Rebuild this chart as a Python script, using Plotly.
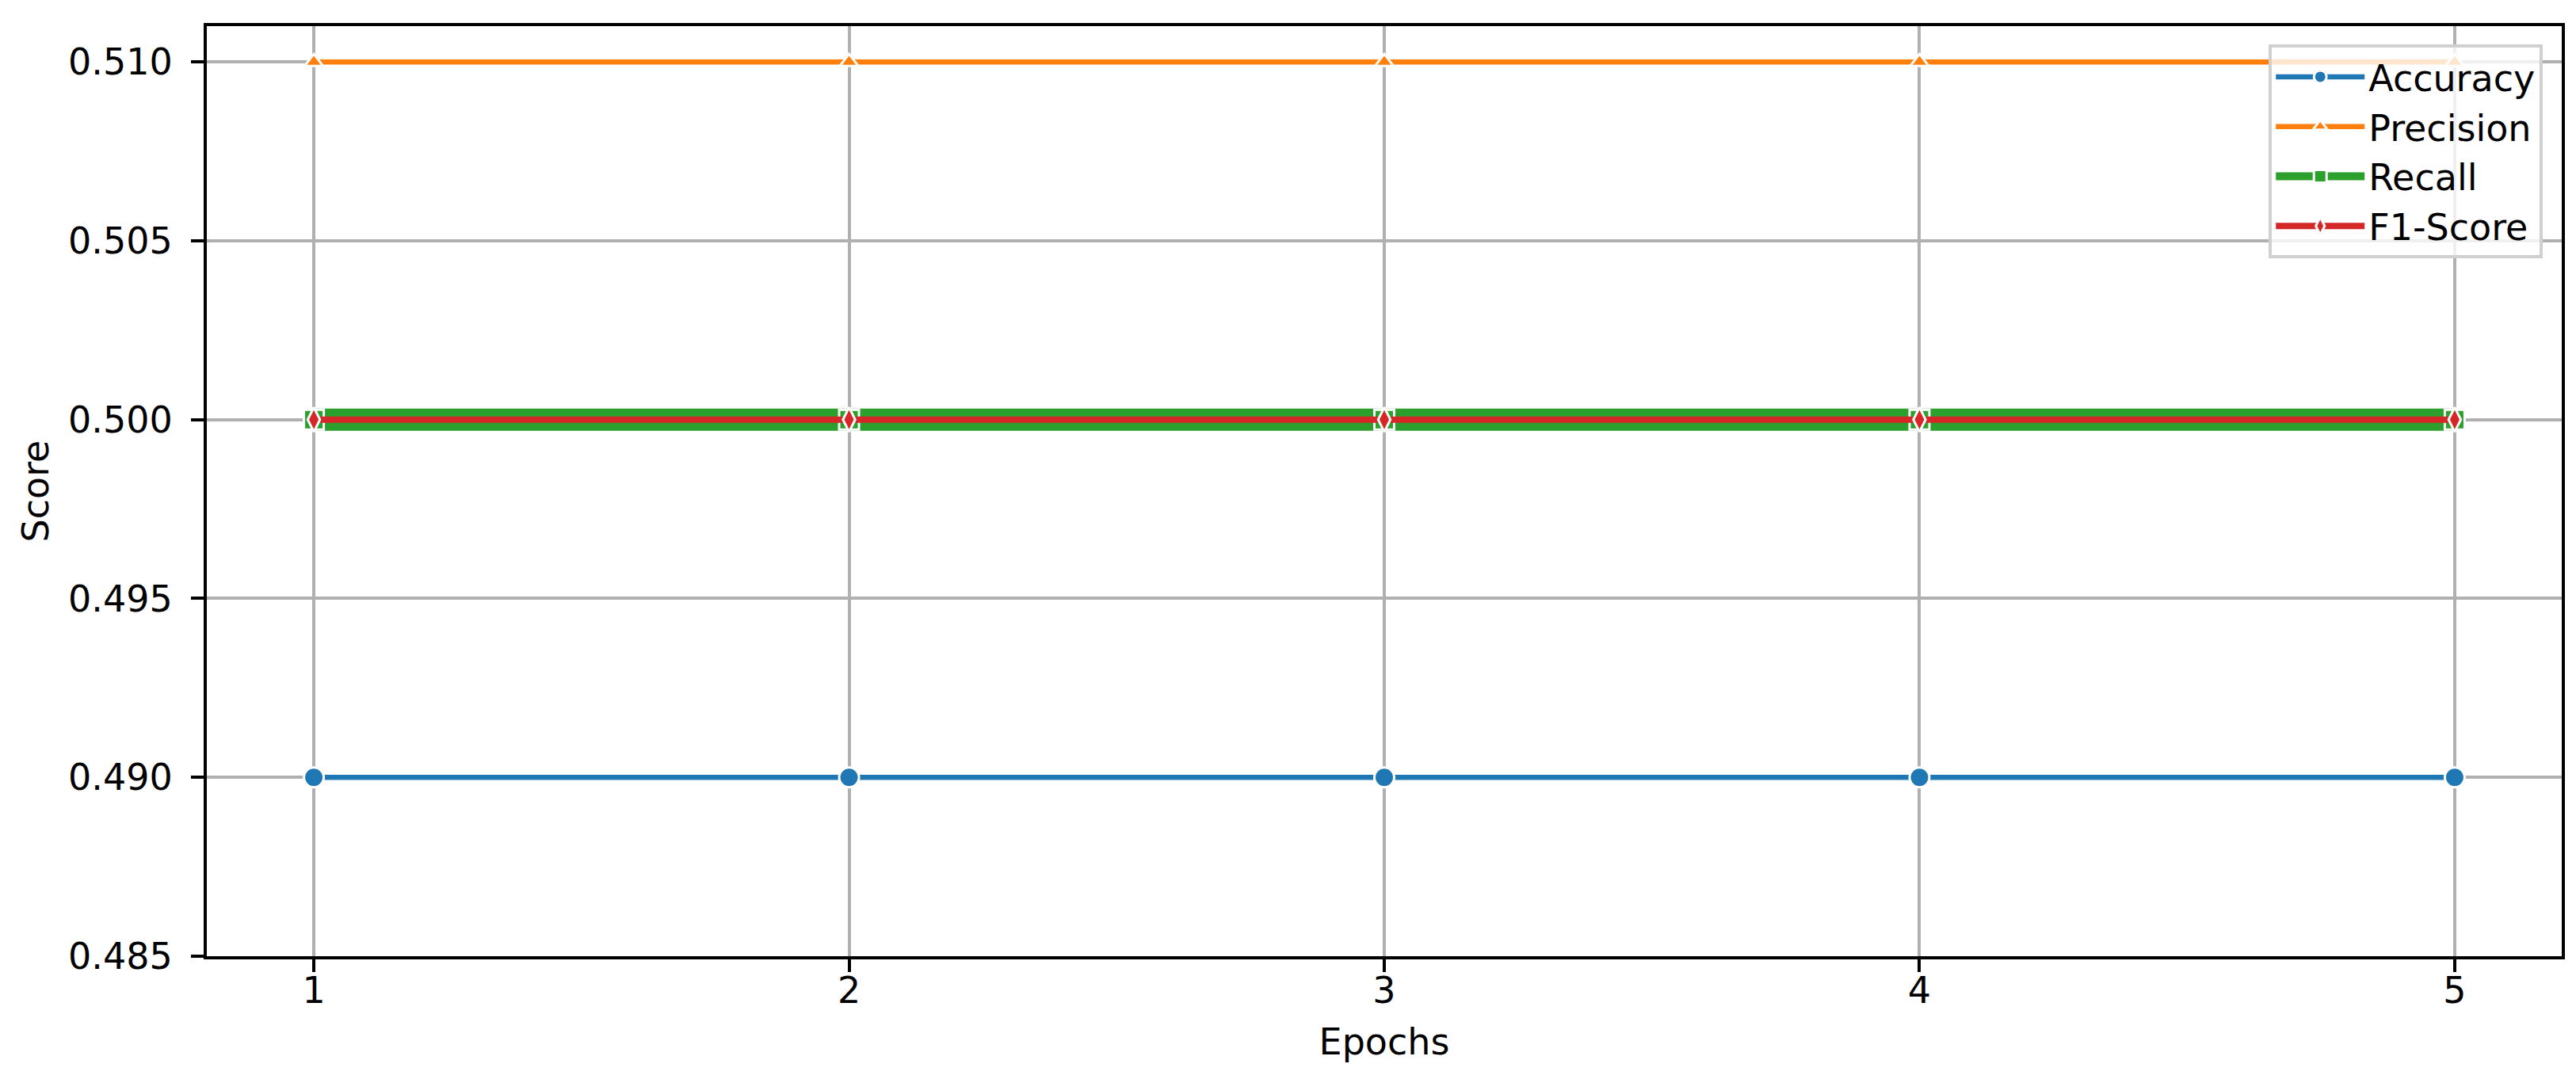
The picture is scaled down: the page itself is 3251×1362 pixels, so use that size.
import plotly.graph_objects as go

epochs = [1, 2, 3, 4, 5]
accuracy = [0.49, 0.49, 0.49, 0.49, 0.49]
precision = [0.51, 0.51, 0.51, 0.51, 0.51]
recall = [0.50, 0.50, 0.50, 0.50, 0.50]
f1_score = [0.50, 0.50, 0.50, 0.50, 0.50]

series_names = ["Accuracy", "Precision", "Recall", "F1-Score"]
series_values = [accuracy, precision, recall, f1_score]
colors = ["#1f77b4", "#ff7f0e", "#2ca02c", "#d62728"]
line_widths = [6.5, 6.5, 28, 8]
symbols = ["circle", "triangle-up", "square", "diamond-tall"]
marker_sizes = [25, 20, 25, 22]

y_ticks = [0.485, 0.490, 0.495, 0.500, 0.505, 0.510]

FONT = "DejaVu Sans"

fig = go.Figure()
for name, vals, c, lw, sym, ms in zip(series_names, series_values, colors,
                                      line_widths, symbols, marker_sizes):
    fig.add_trace(go.Scatter(
        x=epochs, y=vals, name=name, mode="lines+markers",
        line=dict(color=c, width=lw),
        marker=dict(symbol=sym, size=ms, color=c,
                    line=dict(color="white", width=3)),
        legendgroup=name,
    ))

axis_common = dict(
    showline=True, linecolor="black", linewidth=4, mirror=True,
    ticks="outside", ticklen=16, tickwidth=4, tickcolor="black",
    showgrid=True, gridcolor="#b0b0b0", gridwidth=4,
    zeroline=False,
    tickfont=dict(family=FONT, size=46, color="black"),
    title_font=dict(family=FONT, size=46, color="black"),
    automargin=False,
)

fig.update_xaxes(
    range=[0.8, 5.2], tickmode="array", tickvals=epochs,
    ticktext=[str(e) for e in epochs],
    title_text="Epochs", title_standoff=24, ticklabelstandoff=-16,
    **axis_common,
)
fig.update_yaxes(
    range=[0.485, 0.511], tickmode="array", tickvals=y_ticks,
    ticktext=[f"{v:.3f}" for v in y_ticks],
    title_text="Score", title_standoff=11, ticklabelstandoff=14,
    **axis_common,
)

fig.update_layout(
    width=3251, height=1362,
    margin=dict(l=253, r=26, t=25, b=163, pad=0),
    paper_bgcolor="white", plot_bgcolor="white",
    font=dict(family=FONT, size=46, color="black"),
    showlegend=True,
    legend=dict(
        x=0.992, y=0.980, xanchor="right", yanchor="top",
        bgcolor="rgba(255,255,255,0.8)", bordercolor="#d0d0d0", borderwidth=4,
        font=dict(family=FONT, size=46, color="black"),
        itemwidth=112, tracegroupgap=6, traceorder="normal",
    ),
)

fig.write_html("out.html")
